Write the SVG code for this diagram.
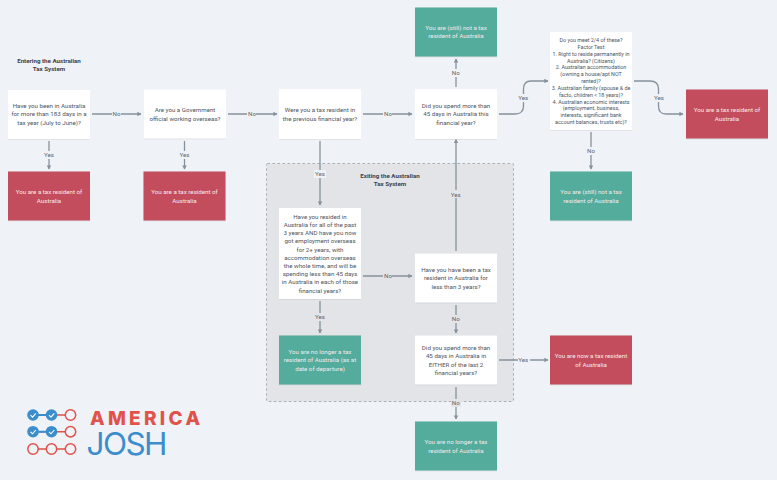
<svg xmlns="http://www.w3.org/2000/svg" width="777" height="480" viewBox="0 0 777 480">
<style>
text{font-family:"Roboto","Liberation Sans",sans-serif;font-size:6.2px;text-anchor:middle}
.w{fill:#fff;filter:url(#s)}.r{fill:#c34d5c;filter:url(#s)}.g{fill:#52ac9c;filter:url(#s)}
.q{fill:#4d5560}.a{fill:#f6e9ea}.h{font-weight:700;fill:#3b424c}
.l{fill:#5d6670}
.f text{font-size:5.4px}
.c{fill:none;stroke:#87919b;stroke-width:1.3}
.lb{fill:#eff3f7}
.lg{fill:#e2e4e8}
</style>
<defs>
<filter id="s" x="-5%" y="-5%" width="110%" height="115%"><feDropShadow dx="0" dy="0.5" stdDeviation="0.6" flood-color="#8a95a0" flood-opacity="0.35"/></filter>
<marker id="ah" markerWidth="5" markerHeight="5" refX="3.6" refY="2.5" orient="auto" markerUnits="userSpaceOnUse"><path d="M0,0.2 L4,2.5 L0,4.800Z" fill="#87919b"/></marker>
</defs>
<rect width="777" height="480" fill="#eff3f7"/>
<rect id="exit-region" x="266.5" y="163.5" width="247" height="238" fill="#e2e4e8" stroke="#a3a8ae" stroke-width="0.9" stroke-dasharray="2.5 2.5" rx="1"/>
<g id="connectors">
<path class="c" marker-end="url(#ah)" d="M92 114H141"/>
<path class="c" marker-end="url(#ah)" d="M228 114H277"/>
<path class="c" marker-end="url(#ah)" d="M363 114H412"/>
<path class="c" marker-end="url(#ah)" d="M49 141V169"/>
<path class="c" marker-end="url(#ah)" d="M184.500 141V169"/>
<path class="c" marker-end="url(#ah)" d="M320 141V205"/>
<path class="c" marker-end="url(#ah)" d="M456 87V59"/>
<path class="c" marker-end="url(#ah)" d="M456 251V139.500"/>
<path class="c" marker-end="url(#ah)" d="M499 114H515Q523.500 114 523.500 106V89Q523.500 81 531 81H548"/>
<path class="c" marker-end="url(#ah)" d="M634 81H650Q658.500 81 658.500 89V106Q658.500 114 666 114H683"/>
<path class="c" marker-end="url(#ah)" d="M591 132V169"/>
<path class="c" marker-end="url(#ah)" d="M363 276H412"/>
<path class="c" marker-end="url(#ah)" d="M320 301V333"/>
<path class="c" marker-end="url(#ah)" d="M456 305V333"/>
<path class="c" marker-end="url(#ah)" d="M499 360H548"/>
<path class="c" marker-end="url(#ah)" d="M456 387V419"/>
</g>
<g id="connector-labels">
<rect class="lb" x="112" y="110" width="9" height="8"/><text class="l" x="116.500" y="116.200">No</text>
<rect class="lb" x="247" y="110" width="9" height="8"/><text class="l" x="252" y="116.200">No</text>
<rect class="lb" x="383" y="110" width="9" height="8"/><text class="l" x="388" y="116.200">No</text>
<rect class="lb" x="43" y="151" width="12" height="8"/><text class="l" x="49" y="157.300">Yes</text>
<rect class="lb" x="178" y="151" width="12" height="8"/><text class="l" x="184.500" y="157.300">Yes</text>
<rect class="lb" x="314" y="170" width="12" height="8"/><text class="l" x="320" y="176.200">Yes</text>
<rect class="lb" x="451" y="69" width="10" height="8"/><text class="l" x="455.700" y="75.200">No</text>
<rect class="lg" x="450" y="190" width="12" height="8"/><text class="l" x="455.700" y="196.500">Yes</text>
<rect class="lb" x="517" y="94" width="13" height="8"/><text class="l" x="523.300" y="99.700">Yes</text>
<rect class="lb" x="652" y="94" width="13" height="8"/><text class="l" x="659" y="99.700">Yes</text>
<rect class="lb" x="586" y="147" width="10" height="8"/><text class="l" x="591" y="153.200">No</text>
<rect class="lg" x="383" y="272" width="9" height="8"/><text class="l" x="388" y="278.300">No</text>
<rect class="lg" x="314" y="313" width="12" height="8"/><text class="l" x="320" y="319.200">Yes</text>
<rect class="lg" x="451" y="315" width="10" height="8"/><text class="l" x="455.700" y="321.200">No</text>
<rect class="lb" x="518" y="356" width="12" height="8"/><text class="l" x="523.300" y="362.200">Yes</text>
<rect class="lg" x="451" y="399" width="10" height="8"/><text class="l" x="455.700" y="405.200">No</text>
</g>
<g id="title-entering"><text class="h" x="49" y="63">Entering the Australian</text><text class="h" x="49" y="71.300">Tax System</text></g>
<g id="title-exiting"><text class="h" x="390" y="177.800">Exiting the Australian</text><text class="h" x="390" y="186">Tax System</text></g>
<g id="n1"><rect class="w" x="8" y="90" width="82" height="49"/><text class="q" x="49" y="108.200">Have you been in Australia</text><text class="q" x="49" y="116.400">for more than 183 days in a</text><text class="q" x="49" y="124.600">tax year (July to June)?</text></g>
<g id="n2"><rect class="w" x="144" y="89.500" width="82" height="49"/><text class="q" x="185" y="112.300">Are you a Government</text><text class="q" x="185" y="120.500">official working overseas?</text></g>
<g id="n3"><rect class="w" x="279" y="89" width="82" height="50"/><text class="q" x="320" y="112.300">Were you a tax resident in</text><text class="q" x="320" y="120.500">the previous financial year?</text></g>
<g id="n4"><rect class="w" x="415" y="89" width="82" height="50"/><text class="q" x="456" y="108.200">Did you spend more than</text><text class="q" x="456" y="116.400">45 days in Australia this</text><text class="q" x="456" y="124.600">financial year?</text></g>
<g id="n5"><rect class="g" x="415" y="7.500" width="82" height="49"/><text class="a" x="456" y="30.200">You are (still) not a tax</text><text class="a" x="456" y="38.400">resident of Australia</text></g>
<g id="n6" class="f"><rect class="w" x="550" y="32" width="82" height="98"/><text class="q" x="591" y="42">Do you meet 2/4 of these?</text><text class="q" x="591" y="49">Factor Test</text><text class="q" x="591" y="55.800">1. Right to reside permanently in</text><text class="q" x="591" y="62.500">Australia? (Citizens)</text><text class="q" x="591" y="69.400">2. Australian accommodation</text><text class="q" x="591" y="76.200">(owning a house/apt NOT</text><text class="q" x="591" y="83">rented)?</text><text class="q" x="591" y="89.900">3. Australian family (spouse &amp; de</text><text class="q" x="591" y="96.700">facto, children &lt; 18 years)?</text><text class="q" x="591" y="103.500">4. Australian economic interests</text><text class="q" x="591" y="110.300">(employment, business,</text><text class="q" x="591" y="117.100">interests, significant bank</text><text class="q" x="591" y="124">account balances, trusts etc)?</text></g>
<g id="n7"><rect class="r" x="686" y="89.500" width="82" height="49"/><text class="a" x="727" y="112.300">You are a tax resident of</text><text class="a" x="727" y="120.500">Australia</text></g>
<g id="n8"><rect class="g" x="550" y="171.500" width="82" height="49"/><text class="a" x="591" y="194.300">You are (still) not a tax</text><text class="a" x="591" y="202.500">resident of Australia</text></g>
<g id="n9"><rect class="r" x="8" y="171.500" width="82" height="49"/><text class="a" x="49" y="194.300">You are a tax resident of</text><text class="a" x="49" y="202.500">Australia</text></g>
<g id="n10"><rect class="r" x="143.500" y="171.500" width="82" height="49"/><text class="a" x="184.500" y="194.300">You are a tax resident of</text><text class="a" x="184.500" y="202.500">Australia</text></g>
<g id="n11"><rect class="w" x="279" y="208" width="82" height="91"/><text class="q" x="320" y="218.700">Have you resided in</text><text class="q" x="320" y="226.900">Australia for all of the past</text><text class="q" x="320" y="235.100">3 years AND have you now</text><text class="q" x="320" y="243.300">got employment overseas</text><text class="q" x="320" y="251.500">for 2+ years, with</text><text class="q" x="320" y="259.700">accommodation overseas</text><text class="q" x="320" y="267.900">the whole time, and will be</text><text class="q" x="320" y="276.100">spending less than 45 days</text><text class="q" x="320" y="284.300">in Australia in each of those</text><text class="q" x="320" y="292.500">financial years?</text></g>
<g id="n12"><rect class="w" x="415" y="253.500" width="82" height="49"/><text class="q" x="456" y="272.200">Have you have been a tax</text><text class="q" x="456" y="280.400">resident in Australia for</text><text class="q" x="456" y="288.600">less than 3 years?</text></g>
<g id="n13"><rect class="g" x="279" y="335.500" width="82" height="49"/><text class="a" x="320" y="354.200">You are no longer a tax</text><text class="a" x="320" y="362.400">resident of Australia (as at</text><text class="a" x="320" y="370.600">date of departure)</text></g>
<g id="n14"><rect class="w" x="415" y="335.500" width="82" height="49"/><text class="q" x="456" y="350.200">Did you spend more than</text><text class="q" x="456" y="358.400">45 days in Australia in</text><text class="q" x="456" y="366.600">EITHER of the last 2</text><text class="q" x="456" y="374.800">financial years?</text></g>
<g id="n15"><rect class="r" x="550" y="335.500" width="82" height="49"/><text class="a" x="591" y="358.300">You are now a tax resident</text><text class="a" x="591" y="366.500">of Australia</text></g>
<g id="n16"><rect class="g" x="415" y="421.500" width="82" height="49"/><text class="a" x="456" y="444.300">You are no longer a tax</text><text class="a" x="456" y="452.500">resident of Australia</text></g>
<g id="logo">
<path d="M33 415H71M33 431.700H71M33 449H71" stroke="#e0524a" stroke-width="1.500" fill="none"/>
<path d="M33 415H52M33 431.700H52" stroke="#3c8dcb" stroke-width="2" fill="none"/>
<g fill="#3c8dcb"><circle cx="33" cy="415" r="5.800"/><circle cx="51.500" cy="415" r="5.800"/><circle cx="33" cy="431.700" r="5.800"/><circle cx="51.500" cy="431.700" r="5.800"/></g>
<g fill="#eff3f7" stroke="#e0524a" stroke-width="1.500"><circle cx="70.500" cy="415" r="5.200"/><circle cx="70.500" cy="431.700" r="5.200"/><circle cx="33" cy="449" r="5.200"/><circle cx="51.500" cy="449" r="5.200"/><circle cx="70.500" cy="449" r="5.200"/></g>
<path d="M30.500 415.200l2 1.900 3.300-3.800M49 415.200l2 1.900 3.300-3.800M30.500 431.900l2 1.900 3.300-3.800M49 431.900l2 1.900 3.300-3.800" fill="none" stroke="#fff" stroke-width="1.100"/>
<text x="90" y="425" textLength="110" lengthAdjust="spacing" style="font-family:'Inter','Liberation Sans',sans-serif;font-size:19px;font-weight:800;text-anchor:start" fill="#e0524a">AMERICA</text>
<text x="86.500" y="454.500" textLength="81" lengthAdjust="spacing" style="font-family:'Inter','Liberation Sans',sans-serif;font-size:31.500px;font-weight:400;text-anchor:start" fill="#3c8dcb">JOSH</text>
</g>
</svg>
